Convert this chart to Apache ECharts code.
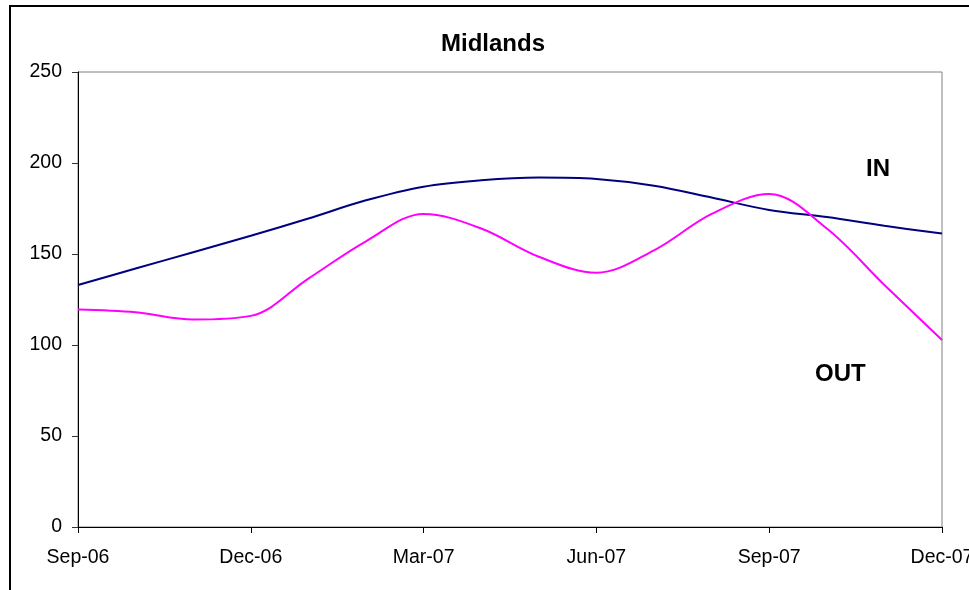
<!DOCTYPE html>
<html>
<head>
<meta charset="utf-8">
<script src="https://cdn.jsdelivr.net/npm/echarts@6/dist/echarts.min.js"></script>
<style>
html,body{margin:0;padding:0;background:#fff;overflow:hidden;}
#chart{width:969px;height:590px;}
</style>
</head>
<body>
<div id="chart"></div>
<script>
const months = ["Sep-06","Oct-06","Nov-06","Dec-06","Jan-07","Feb-07","Mar-07","Apr-07","May-07","Jun-07","Jul-07","Aug-07","Sep-07","Oct-07","Nov-07","Dec-07"];
const inValues  = [133, 142, 151, 160, 169.5, 179.5, 187, 190.5, 192, 191.2, 187.5, 181, 174.2, 170.3, 165.5, 161.2];
const outValues = [119.5, 118, 114, 116, 136.5, 157, 172, 164, 148.5, 139.7, 152, 172, 183, 164, 133, 102.7];
const yTicks = [0, 50, 100, 150, 200, 250];
const titleText = "Midlands";
const seriesLabels = ["IN", "OUT"];

const FONT = "'Liberation Sans', Arial, sans-serif";
const chart = echarts.init(document.getElementById('chart'), null, {renderer: 'canvas'});
chart.setOption({
  animation: false,
  backgroundColor: '#ffffff',
  title: {
    text: titleText,
    left: 441,
    top: 32,
    padding: 0,
    textStyle: {fontFamily: FONT, fontSize: 24, fontWeight: 'bold', color: '#000'}
  },
  grid: {
    left: 78, right: 27, top: 72, bottom: 63,
    containLabel: false,
    outerBoundsMode: 'none',
    show: true, borderColor: '#808080', borderWidth: 1, backgroundColor: 'transparent'
  },
  xAxis: {
    type: 'category',
    data: months,
    boundaryGap: false,
    axisLine: {lineStyle: {color: '#000', width: 1}},
    axisTick: {interval: 2, length: 6, lineStyle: {color: '#000'}},
    axisLabel: {interval: 2, margin: 21, fontFamily: FONT, fontSize: 19.5, color: '#000', showMaxLabel: true, hideOverlap: false},
    splitLine: {show: false}
  },
  yAxis: {
    type: 'value',
    min: yTicks[0],
    max: yTicks[yTicks.length - 1],
    interval: yTicks[1] - yTicks[0],
    axisLine: {show: true, lineStyle: {color: '#000', width: 1}},
    axisTick: {show: true, length: 6, lineStyle: {color: '#333'}},
    axisLabel: {margin: 16, fontFamily: FONT, fontSize: 19.5, color: '#000'},
    splitLine: {show: false}
  },
  series: [
    {name: seriesLabels[0], type: 'line', data: inValues, smooth: 0.35, symbol: 'none',
     lineStyle: {color: '#000080', width: 2}},
    {name: seriesLabels[1], type: 'line', data: outValues, smooth: 0.35, symbol: 'none',
     lineStyle: {color: '#ff00ff', width: 2}}
  ],
  graphic: [
    {type: 'rect', shape: {x: 10, y: 6, width: 1000, height: 1000},
     style: {fill: 'none', stroke: '#000', lineWidth: 2}, silent: true},
    {type: 'text', left: 866, top: 157,
     style: {text: seriesLabels[0], font: "bold 24px " + FONT, fill: '#000'}},
    {type: 'text', left: 815, top: 362,
     style: {text: seriesLabels[1], font: "bold 24px " + FONT, fill: '#000'}}
  ]
});
</script>
</body>
</html>
